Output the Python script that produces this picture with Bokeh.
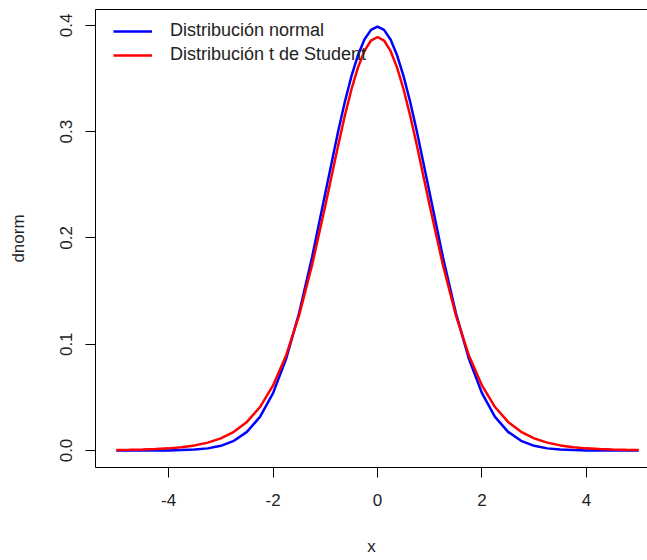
from bokeh.plotting import figure
from bokeh.models import Range1d, LinearAxis, FixedTicker, Legend, LegendItem, ColumnDataSource
from bokeh.embed import file_html
from bokeh.resources import INLINE

# ---- data ----
x_vals = [-5, -4.75, -4.5, -4.25, -4, -3.75, -3.5, -3.25, -3, -2.75, -2.5, -2.25, -2, -1.75,
          -1.5, -1.25, -1, -0.75, -0.625, -0.5, -0.375, -0.25, -0.125, 0,
          0.125, 0.25, 0.375, 0.5, 0.625, 0.75, 1, 1.25, 1.5, 1.75, 2, 2.25, 2.5, 2.75,
          3, 3.25, 3.5, 3.75, 4, 4.25, 4.5, 4.75, 5]
dnorm_vals = [0.0000, 0.0000, 0.0000, 0.0000, 0.0001, 0.0004, 0.0009, 0.0020, 0.0044, 0.0091,
              0.0175, 0.0317, 0.0540, 0.0863, 0.1295, 0.1826, 0.2420, 0.3011, 0.3282, 0.3521,
              0.3719, 0.3867, 0.3958, 0.3989,
              0.3958, 0.3867, 0.3719, 0.3521, 0.3282, 0.3011, 0.2420, 0.1826, 0.1295, 0.0863,
              0.0540, 0.0317, 0.0175, 0.0091, 0.0044, 0.0020, 0.0009, 0.0004, 0.0001, 0.0000,
              0.0000, 0.0000, 0.0000]
dt_vals = [0.0004, 0.0006, 0.0009, 0.0013, 0.0020, 0.0031, 0.0048, 0.0074, 0.0114, 0.0176,
           0.0269, 0.0409, 0.0612, 0.0895, 0.1274, 0.1751, 0.2304, 0.2880, 0.3152, 0.3397,
           0.3603, 0.3760, 0.3858, 0.3891,
           0.3858, 0.3760, 0.3603, 0.3397, 0.3152, 0.2880, 0.2304, 0.1751, 0.1274, 0.0895,
           0.0612, 0.0409, 0.0269, 0.0176, 0.0114, 0.0074, 0.0048, 0.0031, 0.0020, 0.0013,
           0.0009, 0.0006, 0.0004]
x_ticks = [-4, -2, 0, 2, 4]
x_tick_labels = {-4: "-4", -2: "-2", 0: "0", 2: "2", 4: "4"}
y_ticks = [0.0, 0.1, 0.2, 0.3, 0.4]
y_tick_labels = {0.0: "0.0", 0.1: "0.1", 0.2: "0.2", 0.3: "0.3", 0.4: "0.4"}
series_names = ["Distribución normal", "Distribución t de Student"]

FONT = "Liberation Sans"

src = ColumnDataSource(dict(x=x_vals, dnorm=dnorm_vals, dt=dt_vals))

p = figure(width=647, height=560, output_backend="svg", toolbar_location=None,
           x_range=Range1d(-5.4, 5.17), y_range=Range1d(-0.016, 0.415),
           x_axis_label="x", y_axis_label="dnorm")
p.min_border_left = 95
p.min_border_right = 0
p.min_border_top = 9
p.min_border_bottom = 93
p.frame_width = 552
p.frame_height = 458
p.outline_line_color = None
p.xgrid.visible = False
p.ygrid.visible = False
p.background_fill_color = "white"
p.border_fill_color = "white"

r1 = p.line("x", "dnorm", source=src, line_color="#0000FF", line_width=2.5)
r2 = p.line("x", "dt", source=src, line_color="#FF0000", line_width=2.5)

for ax in (p.xaxis[0], p.yaxis[0]):
    ax.axis_line_color = "black"
    ax.axis_line_width = 1
    ax.major_tick_line_color = "black"
    ax.major_tick_out = 10
    ax.major_tick_in = 0
    ax.minor_tick_line_color = None
    ax.major_label_text_font = FONT
    ax.major_label_text_font_size = "17px"
    ax.major_label_text_color = "#222222"
    ax.axis_label_text_font = FONT
    ax.axis_label_text_font_size = "17px"
    ax.axis_label_text_font_style = "normal"
    ax.axis_label_text_color = "#222222"

p.xaxis[0].ticker = FixedTicker(ticks=x_ticks)
p.xaxis[0].major_label_overrides = x_tick_labels
p.xaxis[0].major_label_standoff = 16
p.xaxis[0].axis_label_standoff = 28

p.yaxis[0].ticker = FixedTicker(ticks=y_ticks)
p.yaxis[0].major_label_overrides = y_tick_labels
p.yaxis[0].major_label_orientation = "vertical"
p.yaxis[0].major_label_standoff = 13
p.yaxis[0].axis_label_standoff = 30

top = LinearAxis(ticker=FixedTicker(ticks=[]), axis_line_color="black", axis_line_width=1,
                 major_tick_line_color=None, minor_tick_line_color=None,
                 major_label_text_font_size="0px")
p.add_layout(top, "above")

legend = Legend(items=[LegendItem(label=series_names[0], renderers=[r1]),
                       LegendItem(label=series_names[1], renderers=[r2])],
                location=(18, 402), border_line_color=None, background_fill_alpha=0,
                padding=0, margin=0, spacing=3, glyph_width=39, glyph_height=20,
                label_height=20, label_standoff=18,
                label_text_font=FONT, label_text_font_size="18px", label_text_color="#222222")
p.add_layout(legend)

open("out.html", "w").write(file_html(p, INLINE))
